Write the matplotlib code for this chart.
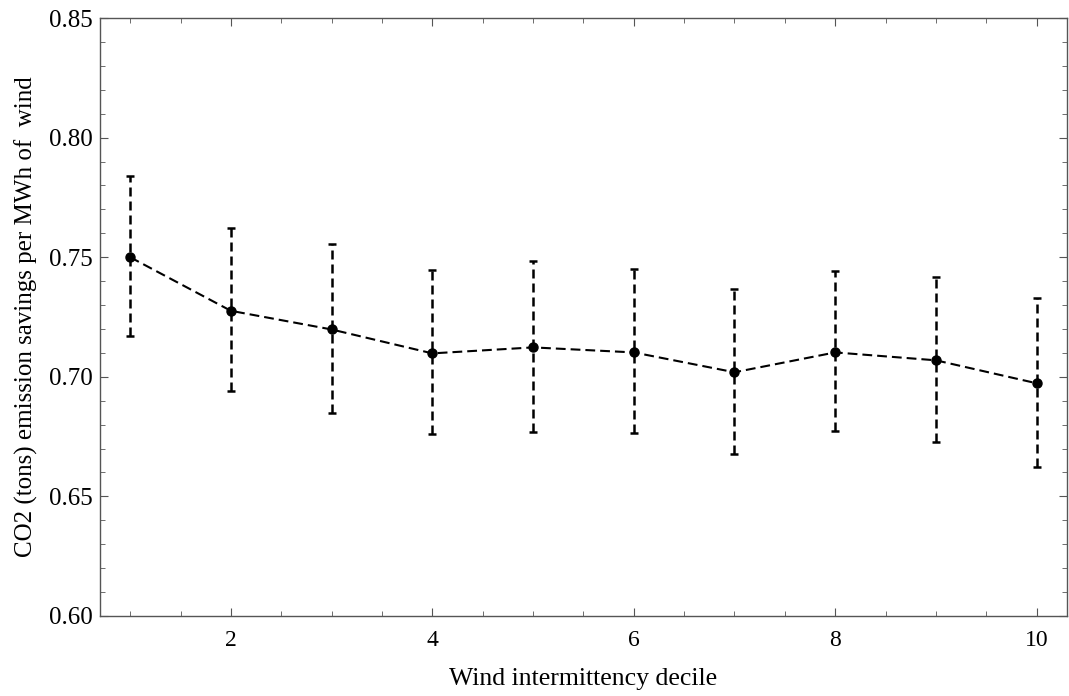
import matplotlib.pyplot as plt
from matplotlib.ticker import MultipleLocator
import numpy as np

plt.rcParams['font.family'] = ['Liberation Serif', 'DejaVu Serif']

decile = [1, 2, 3, 4, 5, 6, 7, 8, 9, 10]
savings = [0.750, 0.7276, 0.7198, 0.7098, 0.7123, 0.7102, 0.7019, 0.7102, 0.7069, 0.6973]
upper = [0.7839, 0.7621, 0.7554, 0.7446, 0.7485, 0.7451, 0.7366, 0.7442, 0.7419, 0.7331]
lower = [0.7171, 0.6942, 0.6850, 0.6759, 0.6771, 0.6766, 0.6677, 0.6773, 0.6729, 0.6624]

savings = np.array(savings)
yerr = [savings - np.array(lower), np.array(upper) - savings]

fig = plt.figure(figsize=(10.69, 6.96), dpi=100)
ax = fig.add_axes([0.0935, 0.115, 0.9045, 0.859])

eb = ax.errorbar(decile, savings, yerr=yerr, fmt='o', color='black', ms=6.5,
                 ls=(0, (4.7, 2.4)), lw=1.5, elinewidth=1.8, capsize=3.2, capthick=1.8)
eb[2][0].set_linestyle((0, (3.6, 2.0)))

ax.set_xlim(0.7, 10.3)
ax.set_ylim(0.60, 0.85)
ax.xaxis.set_major_locator(MultipleLocator(2))
ax.xaxis.set_minor_locator(MultipleLocator(0.5))
ax.yaxis.set_major_locator(MultipleLocator(0.05))
ax.yaxis.set_minor_locator(MultipleLocator(0.01))
ax.yaxis.set_major_formatter(plt.FormatStrFormatter('%.2f'))

for s in ax.spines.values():
    s.set_color('#555555')
    s.set_linewidth(1.0)
ax.tick_params(which='both', direction='in', top=True, right=True, color='#555555')
ax.tick_params(which='major', length=6)
ax.tick_params(which='minor', length=3.5)
ax.tick_params(axis='x', labelsize=17, pad=10)
ax.tick_params(axis='y', labelsize=18, pad=5)

ax.set_xlabel('Wind intermittency decile', fontsize=18.5, labelpad=12)
ax.set_ylabel('CO2 (tons) emission savings per MWh of  wind', fontsize=18, labelpad=8)

fig.savefig('out.png', dpi=100)
